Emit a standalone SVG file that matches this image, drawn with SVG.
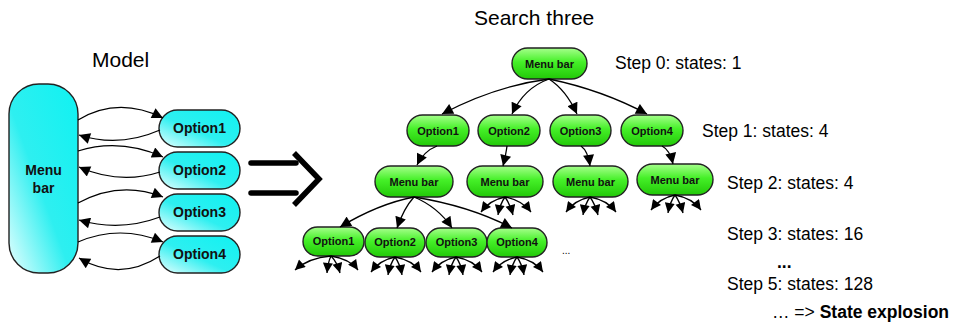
<svg xmlns="http://www.w3.org/2000/svg" width="956" height="323" viewBox="0 0 956 323">
  <defs>
    <linearGradient id="cyanFill" x1="1" y1="0" x2="0" y2="1">
      <stop offset="0" stop-color="#10F2F2"/>
      <stop offset="0.55" stop-color="#2EEFF0"/>
      <stop offset="1" stop-color="#E8FFFF"/>
    </linearGradient>
    <linearGradient id="greenFill" x1="0" y1="0" x2="0" y2="1">
      <stop offset="0" stop-color="#A6FF8C"/>
      <stop offset="0.45" stop-color="#45F028"/>
      <stop offset="1" stop-color="#22C808"/>
    </linearGradient>
    <marker id="headL" viewBox="0 0 10 10" refX="10" refY="5" markerUnits="userSpaceOnUse" markerWidth="14" markerHeight="11" orient="auto">
      <path d="M0,0 L10,5 L0,10 Z" fill="#000"/>
    </marker>
    <marker id="headM" viewBox="0 0 10 10" refX="10" refY="5" markerUnits="userSpaceOnUse" markerWidth="12" markerHeight="11" orient="auto">
      <path d="M0,0 L10,5 L0,10 Z" fill="#000"/>
    </marker>
    <marker id="headS" viewBox="0 0 10 10" refX="10" refY="5" markerUnits="userSpaceOnUse" markerWidth="11" markerHeight="10" orient="auto">
      <path d="M0,0 L10,5 L0,10 Z" fill="#000"/>
    </marker>
  </defs>
  <style>
    .title { font-family: "Liberation Sans", Arial, sans-serif; font-size: 21px; fill: #000; }
    .step { font-family: "Liberation Sans", Arial, sans-serif; font-size: 17.5px; fill: #000; }
    .cyan { fill: url(#cyanFill); stroke: #222; stroke-width: 1.4; }
    .green { fill: url(#greenFill); stroke: #222; stroke-width: 1.4; }
    .mlabel { font-family: "Liberation Sans", Arial, sans-serif; font-size: 14px; font-weight: bold; fill: #111; text-anchor: middle; }
    .tlabel { font-family: "Liberation Sans", Arial, sans-serif; font-size: 11px; font-weight: bold; fill: #111; text-anchor: middle; }
    .edgeL { fill: none; stroke: #000; stroke-width: 1.2; marker-end: url(#headL); }
    .edgeM { fill: none; stroke: #000; stroke-width: 1.3; marker-end: url(#headM); }
    .edgeS { fill: none; stroke: #000; stroke-width: 1.3; marker-end: url(#headS); }
    .bigarrow { fill: none; stroke: #000; stroke-width: 5.5; }
  </style>

  <!-- Titles -->
  <text class="title" x="92" y="67">Model</text>
  <text class="title" x="474" y="25" font-size="22">Search three</text>

  <!-- Model -->
  <g id="model-menubar">
    <rect class="cyan" x="9" y="84" width="69" height="189" rx="30" ry="30"/>
    <text class="mlabel" x="43.5" y="175">Menu</text>
    <text class="mlabel" x="43.5" y="193">bar</text>
  </g>
  <g id="model-option1">
    <rect class="cyan" x="159" y="110" width="81" height="37" rx="18.5"/>
    <text class="mlabel" x="199.5" y="133">Option1</text>
  </g>
  <g id="model-option2">
    <rect class="cyan" x="159" y="152" width="81" height="37" rx="18.5"/>
    <text class="mlabel" x="199.5" y="175">Option2</text>
  </g>
  <g id="model-option3">
    <rect class="cyan" x="159" y="194" width="81" height="37" rx="18.5"/>
    <text class="mlabel" x="199.5" y="217">Option3</text>
  </g>
  <g id="model-option4">
    <rect class="cyan" x="159" y="236" width="81" height="37" rx="18.5"/>
    <text class="mlabel" x="199.5" y="259">Option4</text>
  </g>

  <g id="model-connectors">
    <path class="edgeL" d="M78,120 Q118,96 163,118"/>
    <path class="edgeL" d="M160,130 Q119,148 79,135"/>
    <path class="edgeL" d="M78,151 Q120,138 163,157"/>
    <path class="edgeL" d="M160,172 Q120,185 79,167"/>
    <path class="edgeL" d="M78,203 Q120,180 163,197"/>
    <path class="edgeL" d="M160,217 Q120,232 79,220"/>
    <path class="edgeL" d="M78,242 Q120,224 163,242"/>
    <path class="edgeL" d="M160,256 Q120,282 79,258"/>
  </g>

  <!-- Transition arrow -->
  <g id="transform-arrow">
    <line class="bigarrow" x1="251" y1="163" x2="296" y2="163" stroke-linecap="round"/>
    <line class="bigarrow" x1="251" y1="193" x2="296" y2="193" stroke-linecap="round"/>
    <polyline class="bigarrow" points="294,153 319,179 294,205"/>
  </g>

  <!-- Search tree: level 0 -->
  <g id="t0-menubar">
    <rect class="green" x="512" y="48" width="75" height="31" rx="15.5"/>
    <text class="tlabel" x="549.5" y="67.5">Menu bar</text>
  </g>
  <!-- level 1 -->
  <g id="t1-option1">
    <rect class="green" x="407" y="115" width="62" height="31" rx="15.5"/>
    <text class="tlabel" x="438" y="134.5">Option1</text>
  </g>
  <g id="t1-option2">
    <rect class="green" x="478" y="115" width="62" height="31" rx="15.5"/>
    <text class="tlabel" x="509" y="134.5">Option2</text>
  </g>
  <g id="t1-option3">
    <rect class="green" x="550" y="115" width="61" height="31" rx="15.5"/>
    <text class="tlabel" x="580.5" y="134.5">Option3</text>
  </g>
  <g id="t1-option4">
    <rect class="green" x="621" y="115" width="62" height="31" rx="15.5"/>
    <text class="tlabel" x="652" y="134.5">Option4</text>
  </g>
  <!-- level 2 -->
  <g id="t2-menubar1">
    <rect class="green" x="375" y="166" width="78" height="31" rx="15.5"/>
    <text class="tlabel" x="414" y="185.5">Menu bar</text>
  </g>
  <g id="t2-menubar2">
    <rect class="green" x="467" y="166" width="76" height="31" rx="15.5"/>
    <text class="tlabel" x="505" y="185.5">Menu bar</text>
  </g>
  <g id="t2-menubar3">
    <rect class="green" x="553" y="166" width="75" height="31" rx="15.5"/>
    <text class="tlabel" x="590.5" y="185.5">Menu bar</text>
  </g>
  <g id="t2-menubar4">
    <rect class="green" x="637" y="164" width="76" height="31" rx="15.5"/>
    <text class="tlabel" x="675" y="183.5">Menu bar</text>
  </g>
  <!-- level 3 -->
  <g id="t3-option1">
    <rect class="green" x="303" y="227" width="61" height="29" rx="14.5"/>
    <text class="tlabel" x="333.5" y="245">Option1</text>
  </g>
  <g id="t3-option2">
    <rect class="green" x="365" y="228" width="60" height="29" rx="14.5"/>
    <text class="tlabel" x="395" y="246">Option2</text>
  </g>
  <g id="t3-option3">
    <rect class="green" x="426" y="228" width="61" height="29" rx="14.5"/>
    <text class="tlabel" x="456.5" y="246">Option3</text>
  </g>
  <g id="t3-option4">
    <rect class="green" x="487" y="228" width="60" height="29" rx="14.5"/>
    <text class="tlabel" x="517" y="246">Option4</text>
  </g>
  <text x="562" y="254" font-family="Liberation Sans, Arial, sans-serif" font-size="10">...</text>

  <g id="tree-connectors">
    <!-- level 0 to level 1 -->
    <path class="edgeM" d="M549,79 Q495,86 442,114"/>
    <path class="edgeM" d="M549,79 Q524,88 512,114"/>
    <path class="edgeM" d="M549,79 Q566,90 577,114"/>
    <path class="edgeM" d="M549,79 Q602,90 647,114"/>
    <!-- level 1 to level 2 -->
    <path class="edgeM" d="M437,146 Q424,151 417,165"/>
    <path class="edgeM" d="M507,146 Q506,154 503,166"/>
    <path class="edgeM" d="M581,146 Q588,151 590,166"/>
    <path class="edgeM" d="M662,146 Q670,150 673,164"/>
    <!-- level 2 to level 3 -->
    <path class="edgeM" d="M414,197 Q378,204 340,227"/>
    <path class="edgeM" d="M414,197 Q404,208 397,228"/>
    <path class="edgeM" d="M414,197 Q438,207 452,228"/>
    <path class="edgeM" d="M414,197 Q470,206 512,228"/>
    <!-- outgoing fans, level 2 -->
    <path class="edgeS" d="M505,197 Q490,200 481,212"/>
    <path class="edgeS" d="M505,197 Q500,204 498,215"/>
    <path class="edgeS" d="M505,197 Q510,204 513,215"/>
    <path class="edgeS" d="M505,197 Q522,200 531,212"/>
    <path class="edgeS" d="M590,197 Q575,200 566,212"/>
    <path class="edgeS" d="M590,197 Q585,204 583,215"/>
    <path class="edgeS" d="M590,197 Q595,204 598,215"/>
    <path class="edgeS" d="M590,197 Q607,200 616,212"/>
    <path class="edgeS" d="M675,195 Q660,198 651,210"/>
    <path class="edgeS" d="M675,195 Q670,202 668,213"/>
    <path class="edgeS" d="M675,195 Q680,202 683,213"/>
    <path class="edgeS" d="M675,195 Q692,198 701,210"/>
    <!-- outgoing fans, level 3 -->
    <path class="edgeS" d="M331,256 Q308,258 295,270"/>
    <path class="edgeS" d="M331,256 Q328,262 327,273"/>
    <path class="edgeS" d="M331,256 Q337,262 340,273"/>
    <path class="edgeS" d="M331,256 Q350,259 358,270"/>
    <path class="edgeS" d="M395,257 Q380,260 371,272"/>
    <path class="edgeS" d="M395,257 Q390,264 388,275"/>
    <path class="edgeS" d="M395,257 Q400,264 402,275"/>
    <path class="edgeS" d="M395,257 Q412,260 421,272"/>
    <path class="edgeS" d="M456,257 Q441,260 432,272"/>
    <path class="edgeS" d="M456,257 Q451,264 449,275"/>
    <path class="edgeS" d="M456,257 Q461,264 463,275"/>
    <path class="edgeS" d="M456,257 Q473,260 482,272"/>
    <path class="edgeS" d="M517,257 Q502,260 493,272"/>
    <path class="edgeS" d="M517,257 Q512,264 510,275"/>
    <path class="edgeS" d="M517,257 Q522,264 524,275"/>
    <path class="edgeS" d="M517,257 Q534,260 543,272"/>
  </g>

  <!-- State counts -->
  <text class="step" x="615" y="69">Step 0: states: 1</text>
  <text class="step" x="702" y="137">Step 1: states: 4</text>
  <text class="step" x="727" y="189">Step 2: states: 4</text>
  <text class="step" x="727" y="240">Step 3: states: 16</text>
  <text class="step" x="777" y="268" font-weight="bold">...</text>
  <text class="step" x="727" y="290">Step 5: states: 128</text>
  <text class="step" x="772" y="318">… =&gt; <tspan font-weight="bold">State explosion</tspan></text>
</svg>
